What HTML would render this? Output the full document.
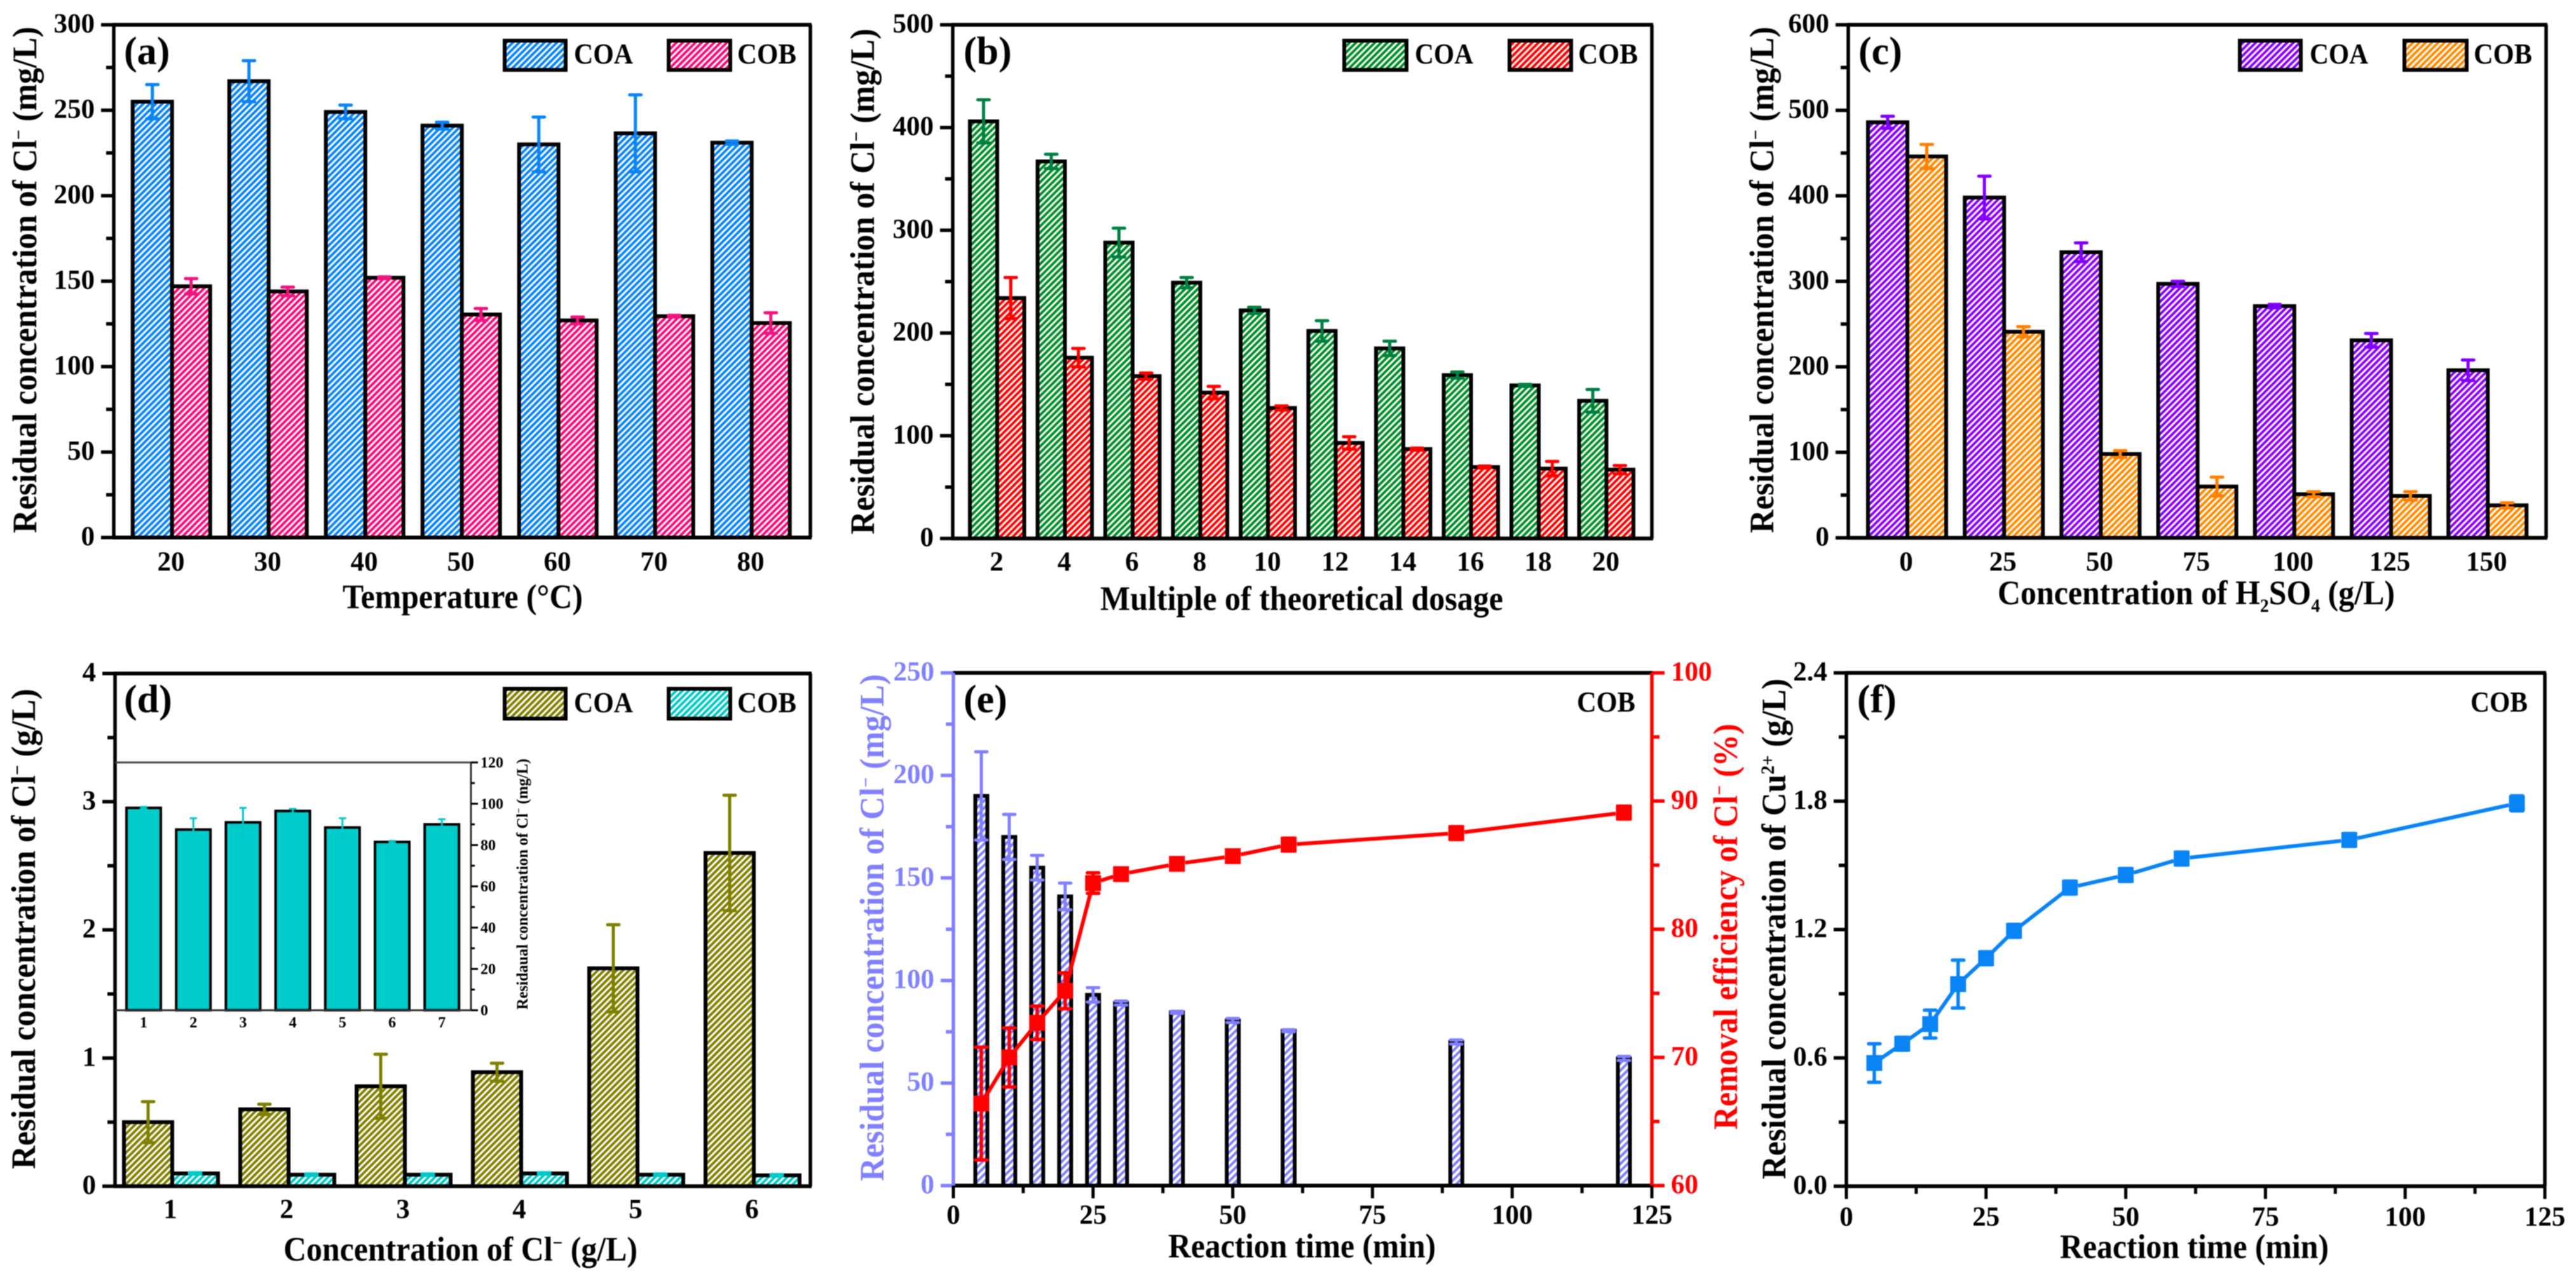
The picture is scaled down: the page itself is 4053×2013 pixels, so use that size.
<!DOCTYPE html>
<html lang="en">
<head>
<meta charset="utf-8">
<title>Residual concentration charts</title>
<style>
html,body{margin:0;padding:0;background:#fff;width:4053px;height:2013px;overflow:hidden}
svg{display:block;filter:blur(0.7px)}
text{font-family:"Liberation Serif",serif;font-weight:bold;fill:#000}
.title{font-size:54px}
.tag{font-size:62px}
.leg{font-size:46px}
.inset{font-size:25px}
.sup{font-size:30px}
</style>
</head>
<body>
<svg id="figure" xmlns="http://www.w3.org/2000/svg" width="4053" height="2013" viewBox="0 0 4053 2013">
<defs>
<pattern id="h-blue" patternUnits="userSpaceOnUse" width="7" height="7" patternTransform="rotate(45)"><rect width="7" height="7" fill="#fff"/><rect width="4" height="7" fill="#0a84f5"/></pattern>
<pattern id="h-pink" patternUnits="userSpaceOnUse" width="7" height="7" patternTransform="rotate(45)"><rect width="7" height="7" fill="#fff"/><rect width="4" height="7" fill="#f80a78"/></pattern>
<pattern id="h-green" patternUnits="userSpaceOnUse" width="7" height="7" patternTransform="rotate(45)"><rect width="7" height="7" fill="#fff"/><rect width="4" height="7" fill="#008c28"/></pattern>
<pattern id="h-red" patternUnits="userSpaceOnUse" width="7" height="7" patternTransform="rotate(45)"><rect width="7" height="7" fill="#fff"/><rect width="4" height="7" fill="#ff0000"/></pattern>
<pattern id="h-purple" patternUnits="userSpaceOnUse" width="7" height="7" patternTransform="rotate(45)"><rect width="7" height="7" fill="#fff"/><rect width="4" height="7" fill="#8a00f5"/></pattern>
<pattern id="h-orange" patternUnits="userSpaceOnUse" width="7" height="7" patternTransform="rotate(45)"><rect width="7" height="7" fill="#fff"/><rect width="4" height="7" fill="#ff8a00"/></pattern>
<pattern id="h-olive" patternUnits="userSpaceOnUse" width="7" height="7" patternTransform="rotate(45)"><rect width="7" height="7" fill="#fff"/><rect width="4" height="7" fill="#808000"/></pattern>
<pattern id="h-cyan" patternUnits="userSpaceOnUse" width="7" height="7" patternTransform="rotate(45)"><rect width="7" height="7" fill="#fff"/><rect width="4" height="7" fill="#00c8c8"/></pattern>
<pattern id="h-peri" patternUnits="userSpaceOnUse" width="8" height="8" patternTransform="rotate(45)"><rect width="8" height="8" fill="#fff"/><rect width="4" height="8" fill="#8080ff"/></pattern>
</defs>

<g id="panel-a">
<text class="tag" x="195" y="101">(a)</text>
<rect x="794" y="64" width="96" height="46" fill="url(#h-blue)" stroke="#000" stroke-width="6"/>
<text class="leg" x="903" y="100" textLength="93" lengthAdjust="spacingAndGlyphs">COA</text>
<rect x="1052" y="64" width="97" height="46" fill="url(#h-pink)" stroke="#000" stroke-width="6"/>
<text class="leg" x="1160" y="100" textLength="93" lengthAdjust="spacingAndGlyphs">COB</text>
<text class="title" transform="translate(57,839) rotate(-90)" textLength="797" lengthAdjust="spacingAndGlyphs">Residual concentration of Cl<tspan class="sup" dy="-18">−</tspan><tspan dy="18"> (mg/L)</tspan></text>
<text class="title" x="539" y="957" textLength="378" lengthAdjust="spacingAndGlyphs">Temperature (°C)</text>
</g>

<g id="panel-b">
<text class="tag" x="1516" y="101">(b)</text>
<rect x="2115" y="64" width="98" height="46" fill="url(#h-green)" stroke="#000" stroke-width="6"/>
<text class="leg" x="2226" y="100" textLength="92" lengthAdjust="spacingAndGlyphs">COA</text>
<rect x="2375" y="64" width="97" height="46" fill="url(#h-red)" stroke="#000" stroke-width="6"/>
<text class="leg" x="2483" y="100" textLength="94" lengthAdjust="spacingAndGlyphs">COB</text>
<text class="title" transform="translate(1375,841) rotate(-90)" textLength="796" lengthAdjust="spacingAndGlyphs">Residual concentration of Cl<tspan class="sup" dy="-18">−</tspan><tspan dy="18"> (mg/L)</tspan></text>
<text class="title" x="1731" y="960" textLength="634" lengthAdjust="spacingAndGlyphs">Multiple of theoretical dosage</text>
</g>

<g id="panel-c">
<text class="tag" x="2924" y="101">(c)</text>
<rect x="3524" y="64" width="96" height="46" fill="url(#h-purple)" stroke="#000" stroke-width="6"/>
<text class="leg" x="3634" y="100" textLength="92" lengthAdjust="spacingAndGlyphs">COA</text>
<rect x="3783" y="64" width="98" height="46" fill="url(#h-orange)" stroke="#000" stroke-width="6"/>
<text class="leg" x="3892" y="100" textLength="92" lengthAdjust="spacingAndGlyphs">COB</text>
<text class="title" transform="translate(2790,839) rotate(-90)" textLength="797" lengthAdjust="spacingAndGlyphs">Residual concentration of Cl<tspan class="sup" dy="-18">−</tspan><tspan dy="18"> (mg/L)</tspan></text>
<text class="title" x="3143" y="951" textLength="625" lengthAdjust="spacingAndGlyphs">Concentration of H<tspan class="sup" dy="12">2</tspan><tspan dy="-12">SO</tspan><tspan class="sup" dy="12">4</tspan><tspan dy="-12"> (g/L)</tspan></text>
</g>

<g id="panel-d">
<text class="tag" x="195" y="1121">(d)</text>
<rect x="794" y="1084" width="96" height="47" fill="url(#h-olive)" stroke="#000" stroke-width="6"/>
<text class="leg" x="903" y="1121" textLength="93" lengthAdjust="spacingAndGlyphs">COA</text>
<rect x="1052" y="1084" width="97" height="47" fill="url(#h-cyan)" stroke="#000" stroke-width="6"/>
<text class="leg" x="1160" y="1121" textLength="93" lengthAdjust="spacingAndGlyphs">COB</text>
<text class="title" transform="translate(55,1840) rotate(-90)" textLength="756" lengthAdjust="spacingAndGlyphs">Residual concentration of Cl<tspan class="sup" dy="-18">−</tspan><tspan dy="18"> (g/L)</tspan></text>
<text class="title" x="446" y="1984" textLength="557" lengthAdjust="spacingAndGlyphs">Concentration of Cl<tspan class="sup" dy="-18">−</tspan><tspan dy="18"> (g/L)</tspan></text>
<text class="inset" transform="translate(830,1589) rotate(-90)" textLength="395" lengthAdjust="spacingAndGlyphs">Residaual concentration of Cl<tspan font-size="15" dy="-9">−</tspan><tspan dy="9"> (mg/L)</tspan></text>
</g>

<g id="panel-e">
<text class="tag" x="1516" y="1121">(e)</text>
<text class="leg" x="2481" y="1120" textLength="92" lengthAdjust="spacingAndGlyphs">COB</text>
<text class="title" style="fill:#8080ff" transform="translate(1390,1859) rotate(-90)" textLength="798" lengthAdjust="spacingAndGlyphs">Residual concentration of Cl<tspan class="sup" style="fill:#8080ff" dy="-18">−</tspan><tspan style="fill:#8080ff" dy="18"> (mg/L)</tspan></text>
<text class="title" style="fill:#ff0000" transform="translate(2733,1778) rotate(-90)" textLength="639" lengthAdjust="spacingAndGlyphs">Removal efficiency of Cl<tspan class="sup" style="fill:#ff0000" dy="-18">−</tspan><tspan style="fill:#ff0000" dy="18"> (%)</tspan></text>
<text class="title" x="1838" y="1979" textLength="421" lengthAdjust="spacingAndGlyphs">Reaction time (min)</text>
</g>

<g id="panel-f">
<text class="tag" x="2922" y="1121">(f)</text>
<text class="leg" x="3887" y="1120" textLength="90" lengthAdjust="spacingAndGlyphs">COB</text>
<text class="title" transform="translate(2809,1856) rotate(-90)" textLength="788" lengthAdjust="spacingAndGlyphs">Residual concentration of Cu<tspan class="sup" dy="-18">2+</tspan><tspan dy="18"> (g/L)</tspan></text>
<text class="title" x="3241" y="1980" textLength="423" lengthAdjust="spacingAndGlyphs">Reaction time (min)</text>
</g>
</svg>

<script>
// ---------- Panel (a) data ----------
const aCategories = ['20','30','40','50','60','70','80'];
const aYTicks = ['0','50','100','150','200','250','300'];
const aCoa = [255,267,249,241,230,236.5,231];
const aCoaErr = [10,12,4,2,16,22.5,1];
const aCob = [147,144,152,130.5,127,129.5,125.5];
const aCobErr = [4.5,2.5,0.5,3.5,2,0.5,6];

// ---------- Panel (b) data ----------
const bCategories = ['2','4','6','8','10','12','14','16','18','20'];
const bYTicks = ['0','100','200','300','400','500'];
const bCoa = [406,367,288,249,222,202,185,159,149,134];
const bCoaErr = [21,7,14,5,3,10,7,3,1,11];
const bCob = [234,176,158,142,127,93,87,69.5,68,67];
const bCobErr = [20,9,3,6,2,6,1,1,7,4];

// ---------- Panel (c) data ----------
const cCategories = ['0','25','50','75','100','125','150'];
const cYTicks = ['0','100','200','300','400','500','600'];
const cCoa = [486,398,334,297,271,231,196];
const cCoaErr = [7,25,11,3,2,8,12];
const cCob = [446,241,98,60,51,49,38];
const cCobErr = [14,6,4,11,3,5,3];

// ---------- Panel (d) data ----------
const dCategories = ['1','2','3','4','5','6'];
const dYTicks = ['0','1','2','3','4'];
const dCoa = [0.5,0.6,0.78,0.89,1.7,2.6];
const dCoaErr = [0.16,0.04,0.25,0.07,0.34,0.45];
const dCob = [0.1,0.09,0.09,0.1,0.09,0.085];
const dCobErr = [0.006,0.006,0.006,0.006,0.006,0.006];

// ---------- Panel (d) inset data ----------
const insetCategories = ['1','2','3','4','5','6','7'];
const insetYTicks = ['0','20','40','60','80','100','120'];
const insetValues = [98,87.5,91,96.5,88.5,81.5,90];
const insetErr = [0.5,5.5,7,1,4.5,0.5,2.5];

// ---------- Panel (e) data ----------
const eTimes = [5,10,15,20,25,30,40,50,60,90,120];
const eXTicks = ['0','25','50','75','100','125'];
const eLeftTicks = ['0','50','100','150','200','250'];
const eRightTicks = ['60','70','80','90','100'];
const eResidual = [190,170,155,141,93,89,84.5,80.5,75.5,70,62];
const eResidualErr = [21.5,11,6,6.5,3.5,1,0.5,1,0.5,1,1];
const eRemoval = [66.4,70,72.7,75.2,83.6,84.3,85.1,85.7,86.6,87.5,89.1];
const eRemovalErr = [4.4,2.3,1.3,1.4,0.8,0.3,0.4,0.4,0.5,0.5,0.5];

// ---------- Panel (f) data ----------
const fTimes = [5,10,15,20,25,30,40,50,60,90,120];
const fXTicks = ['0','25','50','75','100','125'];
const fYTicks = ['0.0','0.6','1.2','1.8','2.4'];
const fCopper = [0.576,0.666,0.758,0.945,1.066,1.194,1.396,1.455,1.532,1.619,1.79];
const fCopperErr = [0.09,0.03,0.065,0.112,0.03,0.03,0.03,0.03,0.03,0.03,0.035];

const NS = 'http://www.w3.org/2000/svg';

function add(parent, tag, attrs, content) {
  const node = document.createElementNS(NS, tag);
  for (const key in attrs) node.setAttribute(key, attrs[key]);
  if (content !== undefined) node.textContent = content;
  parent.appendChild(node);
  return node;
}

function linearScale(dMin, dMax, rMin, rMax) {
  return function (v) { return rMin + (v - dMin) / (dMax - dMin) * (rMax - rMin); };
}

function bandScale(start, step) {
  return function (i) { return start + step * i; };
}

function drawAxisLine(g, x1, y1, x2, y2, color, width) {
  const axis = add(g, 'line', {x1: x1, y1: y1, x2: x2, y2: y2, stroke: color, 'stroke-width': width});
  
  
}

function drawFrame(g, p) {
  drawAxisLine(g, p.left - 2, p.top, p.right + 2, p.top, '#000', 6);
  drawAxisLine(g, p.left - 2, p.bottom, p.right + 2, p.bottom, '#000', 6);
  drawAxisLine(g, p.left, p.top, p.left, p.bottom, p.leftColor || '#000', 5.5);
  drawAxisLine(g, p.right, p.top, p.right, p.bottom, p.rightColor || '#000', 5.5);
}

function drawYAxis(g, labels, scale, axisX, dir, color, opts) {
  const majorLen = opts.major, minorLen = opts.minor;
  labels.forEach(function (lab, i) {
    const v = parseFloat(lab), y = scale(v);
    const tick = add(g, 'line', {x1: axisX, y1: y, x2: axisX + dir * majorLen, y2: y, stroke: color, 'stroke-width': opts.width});
    
    
    const text = add(g, 'text', {x: axisX + dir * (majorLen + opts.pad), y: y + opts.base, 'text-anchor': dir < 0 ? 'end' : 'start', 'font-size': opts.font, style: 'fill:' + color}, lab);
    
    
    if (i < labels.length - 1) {
      const my = scale((v + parseFloat(labels[i + 1])) / 2);
      const minor = add(g, 'line', {x1: axisX, y1: my, x2: axisX + dir * minorLen, y2: my, stroke: color, 'stroke-width': opts.width});
      
      
    }
  });
}

function drawCategoryLabels(g, labels, band, baseline, font) {
  labels.forEach(function (lab, i) {
    const text = add(g, 'text', {x: band(i), y: baseline, 'text-anchor': 'middle', 'font-size': font}, lab);
    
    
  });
}

function drawXAxis(g, labels, scale, axisY, baseline) {
  labels.forEach(function (lab, i) {
    const v = parseFloat(lab), x = scale(v);
    const tick = add(g, 'line', {x1: x, y1: axisY, x2: x, y2: axisY + 20, stroke: '#000', 'stroke-width': 5});
    
    
    const text = add(g, 'text', {x: x, y: baseline, 'text-anchor': 'middle', 'font-size': 43}, lab);
    
    
    if (i < labels.length - 1) {
      const mx = scale((v + parseFloat(labels[i + 1])) / 2);
      const minor = add(g, 'line', {x1: mx, y1: axisY, x2: mx, y2: axisY + 12, stroke: '#000', 'stroke-width': 5});
      
      
    }
  });
}

function drawErrorBar(g, x, yTop, yLow, color, lineW, capW) {
  const stem = add(g, 'line', {x1: x, y1: yTop, x2: x, y2: yLow, stroke: color, 'stroke-width': lineW});
  
  
  const capTop = add(g, 'line', {x1: x - capW / 2, y1: yTop, x2: x + capW / 2, y2: yTop, stroke: color, 'stroke-width': lineW, 'stroke-linecap': 'round'});
  
  
  const capLow = add(g, 'line', {x1: x - capW / 2, y1: yLow, x2: x + capW / 2, y2: yLow, stroke: color, 'stroke-width': lineW, 'stroke-linecap': 'round'});
  
  
}

function drawBarSeries(g, values, errs, band, offset, barW, yScale, fill, errColor, sw, errW, capW, seriesName) {
  values.forEach(function (v, i) {
    const x = band(i) + offset, top = yScale(v), base = yScale(0);
    const bar = add(g, 'rect', {x: x, y: top, width: barW, height: base - top, fill: fill, stroke: '#000', 'stroke-width': sw});
    
    
  });
  values.forEach(function (v, i) {
    const cx = band(i) + offset + barW / 2;
    drawErrorBar(g, cx, yScale(v + errs[i]), yScale(v - errs[i]), errColor, errW, capW);
  });
}

function drawLineSeries(g, xs, values, errs, xScale, yScale, color, seriesName) {
  const gap = 13, size = 25;
  xs.forEach(function (t, i) {
    if (i === xs.length - 1) return;
    const x1 = xScale(t), y1 = yScale(values[i]), x2 = xScale(xs[i + 1]), y2 = yScale(values[i + 1]);
    const len = Math.hypot(x2 - x1, y2 - y1);
    const ux = (x2 - x1) / len, uy = (y2 - y1) / len;
    if (len <= gap * 2) return;
    const seg = add(g, 'line', {x1: x1 + ux * gap, y1: y1 + uy * gap, x2: x2 - ux * gap, y2: y2 - uy * gap, stroke: color, 'stroke-width': 6});
    
    
  });
  xs.forEach(function (t, i) {
    const x = xScale(t), y = yScale(values[i]);
    drawErrorBar(g, x, yScale(values[i] + errs[i]), yScale(values[i] - errs[i]), color, 5.5, 18);
    const mark = add(g, 'rect', {x: x - size / 2, y: y - size / 2, width: size, height: size, fill: color});
    
    
  });
}

const tickOpts = {major: 20, minor: 12, width: 5.5, pad: 10, base: 12, font: 43};

function drawGrouped(id, p, yMax, yTicks, cats, s1, e1, s2, e2, f1, c1, f2, c2) {
  const g = document.getElementById(id);
  const yScale = linearScale(0, yMax, p.bottom, p.top);
  const band = bandScale(p.bandStart, p.bandStep);
  drawBarSeries(g, s1, e1, band, -p.wA, p.wA, yScale, f1, c1, 6, 5, 18, 'coa');
  drawBarSeries(g, s2, e2, band, 0, p.wB, yScale, f2, c2, 6, 5, 18, 'cob');
  drawFrame(g, p);
  drawYAxis(g, yTicks, yScale, p.left, -1, '#000', tickOpts);
  drawCategoryLabels(g, cats, bandScale(p.labelStart, p.bandStep), p.labelBase, 43);
}

drawGrouped('panel-a',
  {left: 179, right: 1275, top: 39, bottom: 846, bandStart: 270.7, bandStep: 152, wA: 62, wB: 60, labelStart: 269, labelBase: 898},
  300, aYTicks, aCategories, aCoa, aCoaErr, aCob, aCobErr, 'url(#h-blue)', '#0a84f5', 'url(#h-pink)', '#f01480');

drawGrouped('panel-b',
  {left: 1499, right: 2599, top: 39, bottom: 847.5, bandStart: 1569, bandStep: 106.5, wA: 43, wB: 42.5, labelStart: 1568, labelBase: 898},
  500, bYTicks, bCategories, bCoa, bCoaErr, bCob, bCobErr, 'url(#h-green)', '#008040', 'url(#h-red)', '#ff0000');

drawGrouped('panel-c',
  {left: 2908, right: 4006, top: 39, bottom: 846.5, bandStart: 3001, bandStep: 152.2, wA: 62, wB: 61, labelStart: 2999, labelBase: 898},
  600, cYTicks, cCategories, cCoa, cCoaErr, cCob, cCobErr, 'url(#h-purple)', '#8000ff', 'url(#h-orange)', '#ff8000');

drawGrouped('panel-d',
  {left: 181, right: 1275, top: 1060, bottom: 1867, bandStart: 271, bandStep: 183, wA: 76, wB: 72, labelStart: 268, labelBase: 1917},
  4, dYTicks, dCategories, dCoa, dCoaErr, dCob, dCobErr, 'url(#h-olive)', '#808000', 'url(#h-cyan)', '#00c8c8');

(function drawInset() {
  const g = document.getElementById('panel-d');
  const left = 181, right = 741, top = 1200, bottom = 1590;
  const yScale = linearScale(0, 120, bottom, top);
  const band = bandScale(226, 78.2);
  drawBarSeries(g, insetValues, insetErr, band, -27, 54, yScale, '#00cccc', '#00c8c8', 4, 3, 9, 'inset');
  drawAxisLine(g, left, top, right, top, '#444', 3);
  drawAxisLine(g, left, bottom, right, bottom, '#333', 3);
  drawAxisLine(g, right, top, right, bottom, '#333', 3);
  drawYAxis(g, insetYTicks, yScale, right, 1, '#000', {major: 11, minor: 6, width: 3, pad: 4, base: 8, font: 24});
  drawCategoryLabels(g, insetCategories, band, 1617, 24);
})();

(function drawPanelE() {
  const g = document.getElementById('panel-e');
  const p = {left: 1500, right: 2599, top: 1059, bottom: 1866, leftColor: '#8080ff', rightColor: '#ff0000'};
  const xScale = linearScale(0, 125, p.left, p.right);
  const yLeft = linearScale(0, 250, p.bottom, p.top);
  const yRight = linearScale(60, 100, p.bottom, p.top);
  const band = function (i) { return xScale(eTimes[i]); };
  drawBarSeries(g, eResidual, eResidualErr, band, -9.5, 19, yLeft, 'url(#h-peri)', '#8080ff', 6, 5, 18, 'residual');
  drawFrame(g, p);
  drawYAxis(g, eLeftTicks, yLeft, p.left, -1, '#8080ff', tickOpts);
  drawYAxis(g, eRightTicks, yRight, p.right, 1, '#ff0000', tickOpts);
  drawXAxis(g, eXTicks, xScale, p.bottom, 1926);
  drawLineSeries(g, eTimes, eRemoval, eRemovalErr, xScale, yRight, '#ff0000', 'removal');
})();

(function drawPanelF() {
  const g = document.getElementById('panel-f');
  const p = {left: 2905, right: 4004, top: 1059, bottom: 1867};
  const xScale = linearScale(0, 125, p.left, p.right);
  const yScale = linearScale(0, 2.4, p.bottom, p.top);
  drawFrame(g, p);
  drawYAxis(g, fYTicks, yScale, p.left, -1, '#000', tickOpts);
  drawXAxis(g, fXTicks, xScale, p.bottom, 1929);
  drawLineSeries(g, fTimes, fCopper, fCopperErr, xScale, yScale, '#0a84f5', 'copper');
})();
</script>
</body>
</html>
